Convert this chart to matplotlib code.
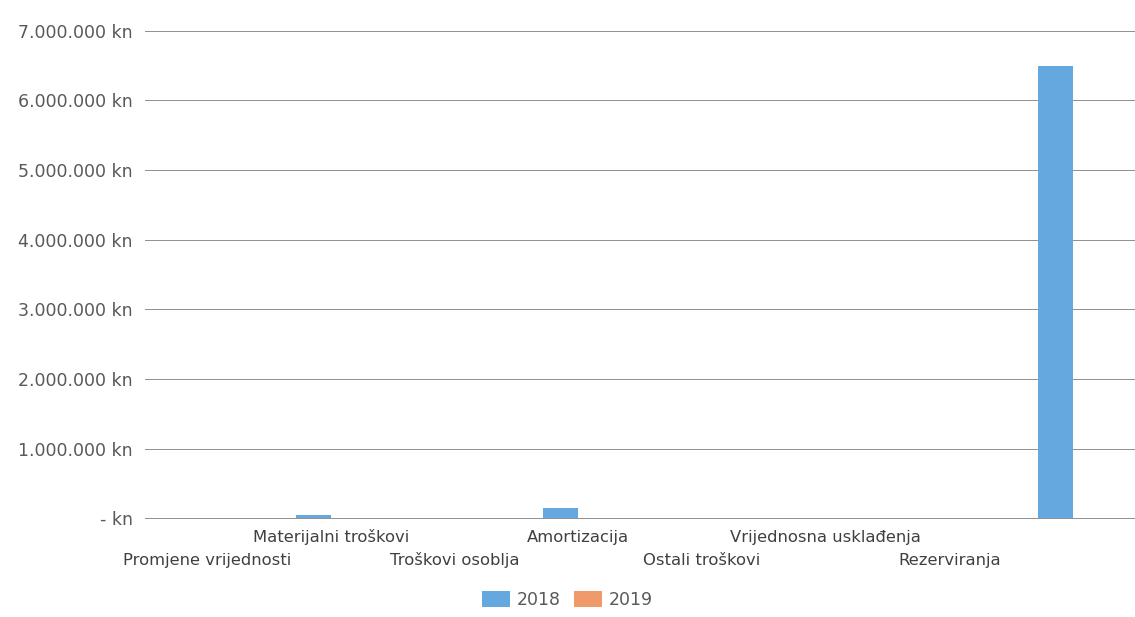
import matplotlib.pyplot as plt
import numpy as np
from matplotlib.ticker import FuncFormatter

categories = ['Promjene vrijednosti', 'Materijalni troškovi', 'Troškovi osoblja',
              'Amortizacija', 'Ostali troškovi', 'Vrijednosna usklađenja',
              'Rezerviranja', '']
values_2018 = [0, 40000, 0, 150000, 0, 0, 0, 6500000]
values_2019 = [0, 0, 0, 0, 0, 0, 0, 0]
y_ticks = [0, 1000000, 2000000, 3000000, 4000000, 5000000, 6000000, 7000000]

blue = '#64A8DF'
orange = '#F09A6C'
text_gray = '#595959'

fig = plt.figure(figsize=(11.35, 6.17), dpi=100)
ax = fig.add_axes([0.128, 0.16, 0.872, 0.79])

x = np.arange(len(categories))
w = 0.285
ax.bar(x - w / 2, values_2018, w, color=blue, label='2018', zorder=3)
ax.bar(x + w / 2, values_2019, w, color=orange, label='2019', zorder=3)

ax.set_xlim(-0.5, len(categories) - 0.5)
ax.set_ylim(0, 7000000)
ax.set_yticks(y_ticks)


def kn(v, pos):
    if v == 0:
        return '- kn'
    return f'{int(v):,} kn'.replace(',', '.')


ax.yaxis.set_major_formatter(FuncFormatter(kn))
ax.grid(axis='y', color='#8f8f8f', linewidth=0.7, zorder=0)
for gl in ax.get_ygridlines():
    gl.set_clip_on(False)
for s in ax.spines.values():
    s.set_visible(False)
ax.tick_params(axis='y', length=0, pad=9, labelsize=12.5, labelcolor=text_gray)
ax.set_xticks([])

# staggered category labels, two rows
for i, name in enumerate(categories):
    y = -0.039 if i % 2 == 1 else -0.086
    ax.text(x[i], y, name, transform=ax.get_xaxis_transform(), ha='center',
            va='center', fontsize=11.8, color='#404040')

fig.legend(loc='lower center', bbox_to_anchor=(0.5, -0.012), ncol=2, frameon=False,
           fontsize=12.5, labelcolor=text_gray, handlelength=1.6, handleheight=1.0,
           columnspacing=0.8, handletextpad=0.4)

plt.savefig('out.png', dpi=100)
